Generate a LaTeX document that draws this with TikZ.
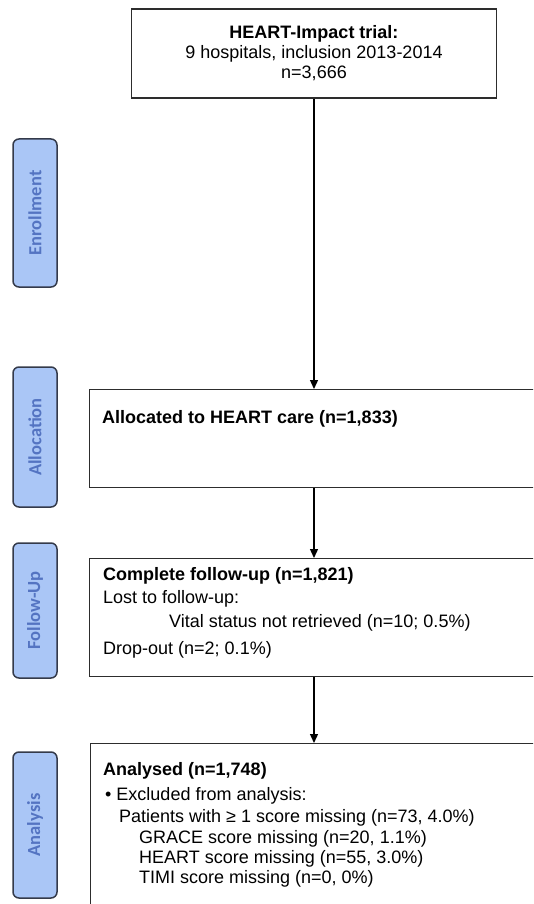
\documentclass[tikz,border=0pt]{standalone}
\usepackage{fontspec}
\setmainfont{Liberation Sans}
\newfontfamily\stagefont{Carlito}
\usetikzlibrary{positioning,arrows.meta}
\definecolor{stagefill}{RGB}{170,198,246}
\definecolor{stagetext}{RGB}{84,116,194}
\definecolor{stageline}{RGB}{52,58,74}
\definecolor{boxline}{RGB}{45,45,45}
\tikzset{
  stage/.style={draw=stageline, fill=stagefill, line width=1.5pt, rounded corners=6pt,
    rotate=90, minimum height=44pt, inner sep=0pt, text=stagetext,
    font=\stagefont\bfseries\fontsize{18.5}{20}\selectfont},
  flowbox/.style={draw=boxline, line width=1.3pt, inner sep=0pt},
  txt/.style={anchor=base west, inner sep=0pt, font=\fontsize{18}{21}\selectfont},
  flow/.style={-{Triangle[length=9pt,width=8pt]}, draw=black, line width=1.3pt}
}

\begin{document}
\begin{tikzpicture}[x=1pt, y=-1pt]
\clip (0,0) rectangle (533,904);
% Stages
    \node[stage, minimum width=148pt] (enrol) at (35,213) {Enrollment};
    \node[stage, minimum width=140pt] (alloclab) at (35,437) {Allocation};
    \node[stage, minimum width=135pt] (followlab) at (35,610.5) {Follow-Up};
    \node[stage, minimum width=146pt] (analysislab) at (35,825) {Analysis};
% Boxes
    \node[flowbox, minimum width=365pt, minimum height=89pt, align=center,
      font=\fontsize{18}{20}\selectfont] (trial) at (314,53.5)
      {\textbf{HEART-Impact trial:}\\9 hospitals, inclusion 2013-2014\\n=3,666};
    \node[flowbox, anchor=north west, minimum width=470pt, minimum height=98pt] (alloc) at (89,389) {};
    \node[flowbox, anchor=north west, minimum width=470pt, minimum height=118pt] (follow) at (89,558) {};
    \node[flowbox, anchor=north west, minimum width=470pt, minimum height=175pt] (analysis) at (90,743) {};
% Box texts
    \node[txt] (alloc1) at (102,423) {\textbf{Allocated to HEART care (n=1,833)}};
    \node[txt] (follow1) at (103,580) {\textbf{Complete follow-up (n=1,821)}};
    \node[txt] (follow2) at (103,603) {Lost to follow-up:};
    \node[txt] (follow3) at (169,627) {Vital status not retrieved (n=10; 0.5\%)};
    \node[txt] (follow4) at (103,654) {Drop-out (n=2; 0.1\%)};
    \node[txt] (analysis1) at (103,775) {\textbf{Analysed (n=1,748)}};
    \node[txt] (analysis2) at (105,800) {\textbullet\ Excluded from analysis:};
    \node[txt] (analysis3) at (119,822) {Patients with ≥ 1 score missing (n=73, 4.0\%)};
    \node[txt] (analysis4) at (139,843) {GRACE score missing (n=20, 1.1\%)};
    \node[txt] (analysis5) at (139,863) {HEART score missing (n=55, 3.0\%)};
    \node[txt] (analysis6) at (139,883) {TIMI score missing (n=0, 0\%)};
% Arrows
    \draw[flow] (trial.south) -- (trial.south |- alloc.north);
    \draw[flow] (trial.south |- alloc.south) -- (trial.south |- follow.north);
    \draw[flow] (trial.south |- follow.south) -- (trial.south |- analysis.north);
\end{tikzpicture}
\end{document}
